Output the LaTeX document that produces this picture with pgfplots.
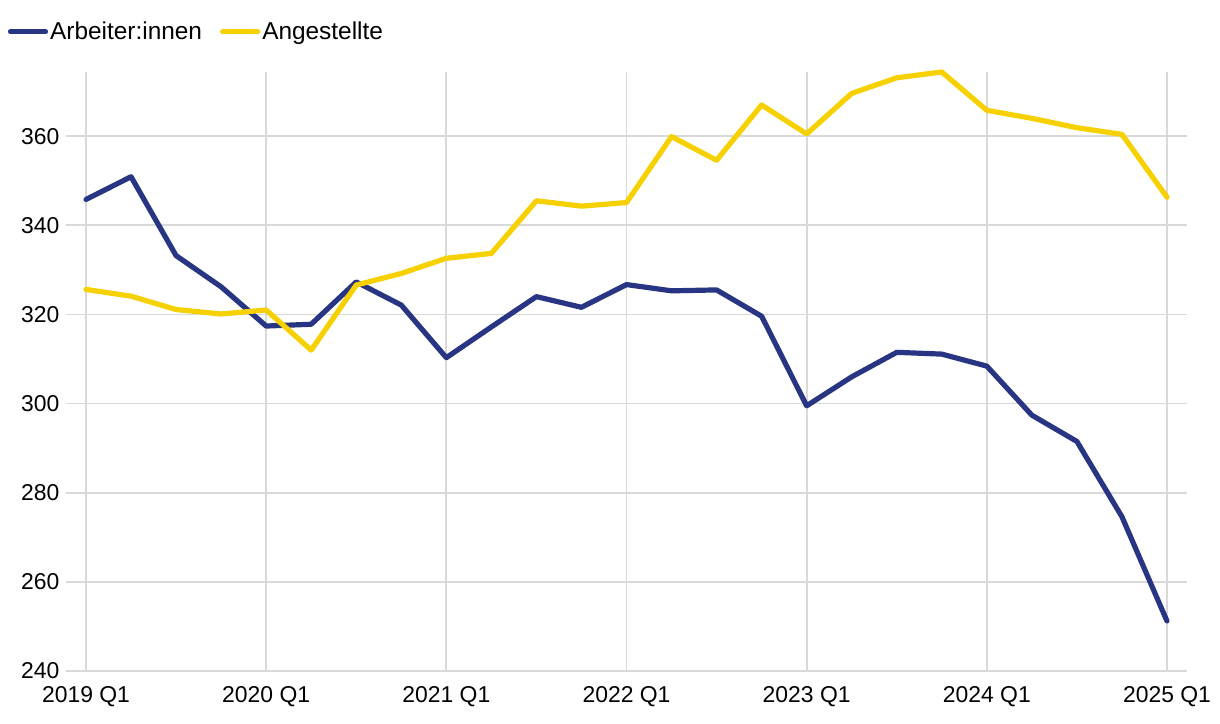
\documentclass[border=0pt]{standalone}
\usepackage{pgfplots}
\pgfplotsset{compat=1.18}
\usepackage{fontspec}
\setmainfont{Liberation Sans}
\definecolor{navy}{HTML}{283583}
\definecolor{gelb}{HTML}{F7D000}
\definecolor{gridc}{HTML}{D9D9D9}
\begin{document}
\begin{tikzpicture}
\path[use as bounding box] (0,0) rectangle (1220bp,724bp);
\begin{axis}[
  at={(66bp,53bp)}, anchor=south west,
  scale only axis, width=1121bp, height=599bp,
  xmin=-0.444, xmax=24.444, ymin=240, ymax=374.4,
  axis line style={draw=none},
  tick style={draw=none},
  xtick={0,4,8,12,16,20,24},
  xticklabels={2019 Q1,2020 Q1,2021 Q1,2022 Q1,2023 Q1,2024 Q1,2025 Q1},
  ytick={240,260,280,300,320,340,360},
  grid=major,
  major grid style={draw=gridc, line width=1.8bp},
  /pgf/number format/assume math mode=true,
  every tick label/.append style={font=\fontsize{23}{27}\selectfont, text=black},
  xticklabel style={yshift=-12bp},
  yticklabel style={xshift=-3bp},
  clip=false,
  legend columns=2,
  legend style={at={(-0.052,1.067)}, anchor=west, draw=none, fill=none,
    font=\fontsize{24.5}{28}\selectfont, inner sep=0pt,
    /tikz/every even column/.append style={column sep=16bp}},
  legend image code/.code={\draw[#1, line cap=round] (2.5bp,0bp) -- (28.5bp,0bp); \path (0bp,0bp) -- (35bp,0bp);},
  every axis plot/.append style={line width=5.2bp, line join=round, line cap=round},
]
\addplot[navy] coordinates {
(0,345.8) (1,350.9) (2,333.2) (3,326.2) (4,317.4) (5,317.8) (6,327.3) (7,322.1)
(8,310.3) (9,317.2) (10,324.0) (11,321.6) (12,326.7) (13,325.3) (14,325.5) (15,319.6)
(16,299.5) (17,306.0) (18,311.5) (19,311.1) (20,308.4) (21,297.4) (22,291.5) (23,274.6) (24,251.2)
};
\addlegendentry{Arbeiter:innen}
\addplot[gelb] coordinates {
(0,325.6) (1,324.1) (2,321.1) (3,320.1) (4,321.0) (5,312.0) (6,326.6) (7,329.2)
(8,332.6) (9,333.7) (10,345.5) (11,344.3) (12,345.1) (13,359.9) (14,354.6) (15,367.0)
(16,360.5) (17,369.6) (18,373.1) (19,374.4) (20,365.8) (21,364.0) (22,361.9) (23,360.4) (24,346.3)
};
\addlegendentry{Angestellte}
\end{axis}
\end{tikzpicture}
\end{document}
